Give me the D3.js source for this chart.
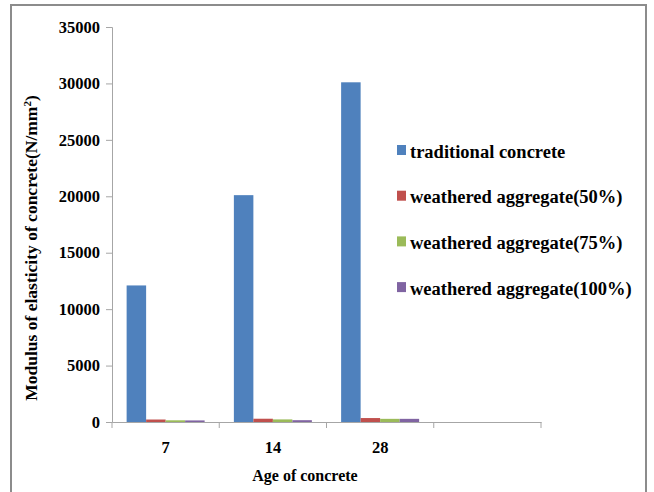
<!DOCTYPE html>
<html>
<head>
<meta charset="utf-8">
<script src="https://cdn.jsdelivr.net/npm/d3@7"></script>
<style>
  body { margin: 0; background: #fff; }
  #chart { width: 654px; height: 492px; }
</style>
</head>
<body>
<div id="chart"></div>
<script>
const ages = ["7", "14", "28", ""];
const seriesNames = [
    "traditional concrete",
    "weathered aggregate(50%)",
    "weathered aggregate(75%)",
    "weathered aggregate(100%)"
];
const traditional = [12100, 20100, 30100];
const weathered50 = [220, 290, 350];
const weathered75 = [150, 230, 280];
const weathered100 = [140, 160, 280];
const yTicks = [0, 5000, 10000, 15000, 20000, 25000, 30000, 35000];
const colors = ["#4F81BD", "#C0504D", "#9BBB59", "#8064A2"];

const FONT = "'Liberation Serif'";

function renderModulus(selector) {
    d3.select(selector).html("");

    const margin = {top: 27, right: 113, bottom: 70, left: 112};
    const W = 654, H = 492;
    const width = W - margin.left - margin.right;
    const height = H - margin.top - margin.bottom;

    const root = d3.select(selector).append("svg")
        .attr("width", W)
        .attr("height", H);

    // outer frame
    root.append("rect")
        .attr("x", 11).attr("y", 5)
        .attr("width", 635).attr("height", 500)
        .attr("fill", "none")
        .attr("stroke", "#8C8C8C")
        .attr("stroke-width", 2);

    const svg = root.append("g")
        .attr("transform", `translate(${margin.left}, ${margin.top})`);

    const allSeries = [traditional, weathered50, weathered75, weathered100];
    const rows = ages.map((a, i) => ({
        age: a,
        key: "c" + i,
        values: allSeries.map((s, j) => ({series: j, value: s[i]}))
    }));

    const x0 = d3.scaleBand()
        .domain(rows.map(d => d.key))
        .range([0, width]);

    // gap width 150% -> group of 4 bars + 1.5 bar of gap per category
    const gap = x0.bandwidth() * 0.75 / 5.5;
    const x1 = d3.scaleBand()
        .domain(d3.range(4))
        .range([gap, x0.bandwidth() - gap]);

    const y = d3.scaleLinear()
        .domain([0, 35000])
        .range([height, 0]);

    // y axis
    const yAxis = svg.append("g")
        .attr("class", "axis axis-y")
        .call(d3.axisLeft(y).tickValues(yTicks).tickSize(6).tickPadding(6).tickFormat(d3.format("d")));
    yAxis.select(".domain").attr("stroke", "#A6A6A6");
    yAxis.selectAll(".tick line").attr("stroke", "#A6A6A6");
    yAxis.selectAll(".tick text")
        .style("font-size", "16.5px")
        .style("font-family", FONT)
        .style("font-weight", "bold")
        .attr("fill", "#000");

    // bars
    const groups = svg.selectAll(".grp")
        .data(rows)
        .enter()
        .append("g")
        .attr("class", "grp")
        .attr("transform", d => `translate(${x0(d.key)}, 0)`);

    groups.selectAll("rect")
        .data(d => d.values.filter(v => v.value !== undefined))
        .enter()
        .append("rect")
        .attr("x", d => x1(d.series))
        .attr("width", x1.bandwidth())
        .attr("y", d => y(d.value))
        .attr("height", d => height - y(d.value))
        .attr("fill", d => colors[d.series]);

    // x axis
    const xAxis = svg.append("g")
        .attr("class", "axis axis-x")
        .attr("transform", `translate(0, ${height})`)
        .call(d3.axisBottom(x0).tickSize(0).tickPadding(19).tickFormat(k => rows.find(r => r.key === k).age));
    xAxis.select(".domain").attr("stroke", "#A6A6A6");
    xAxis.selectAll(".tick text")
        .style("font-size", "16.5px")
        .style("font-family", FONT)
        .style("font-weight", "bold")
        .attr("fill", "#000");

    // category boundary ticks
    svg.append("g")
        .selectAll("line")
        .data(d3.range(rows.length + 1))
        .enter()
        .append("line")
        .attr("x1", i => i * x0.bandwidth())
        .attr("x2", i => i * x0.bandwidth())
        .attr("y1", height)
        .attr("y2", height + 6)
        .attr("stroke", "#A6A6A6");

    // axis titles
    svg.append("text")
        .attr("x", 305 - margin.left)
        .attr("y", 481 - margin.top)
        .attr("text-anchor", "middle")
        .style("font-family", FONT)
        .style("font-weight", "bold")
        .style("font-size", "16px")
        .text("Age of concrete");

    const yTitle = svg.append("text")
        .attr("transform", `translate(${37 - margin.left}, ${248 - margin.top}) rotate(-90)`)
        .attr("text-anchor", "middle")
        .style("font-family", FONT)
        .style("font-weight", "bold")
        .style("font-size", "17.5px");
    yTitle.append("tspan").text("Modulus of elasticity of concrete(N/mm");
    yTitle.append("tspan").attr("baseline-shift", "super").style("font-size", "11px").text("2");
    yTitle.append("tspan").text(")");

    // legend
    const legend = svg.append("g")
        .attr("transform", `translate(${397 - margin.left}, ${150 - margin.top})`);
    const items = legend.selectAll(".item")
        .data(seriesNames)
        .enter()
        .append("g")
        .attr("class", "item")
        .attr("transform", (d, i) => `translate(0, ${i * 45.7})`);
    items.append("rect")
        .attr("x", 0).attr("y", -5)
        .attr("width", 9).attr("height", 10)
        .attr("fill", (d, i) => colors[i]);
    items.append("text")
        .attr("x", 13)
        .attr("y", 7.5)
        .style("font-family", FONT)
        .style("font-weight", "bold")
        .style("font-size", "18.5px")
        .text(d => d);
}

renderModulus("#chart");
</script>
</body>
</html>
